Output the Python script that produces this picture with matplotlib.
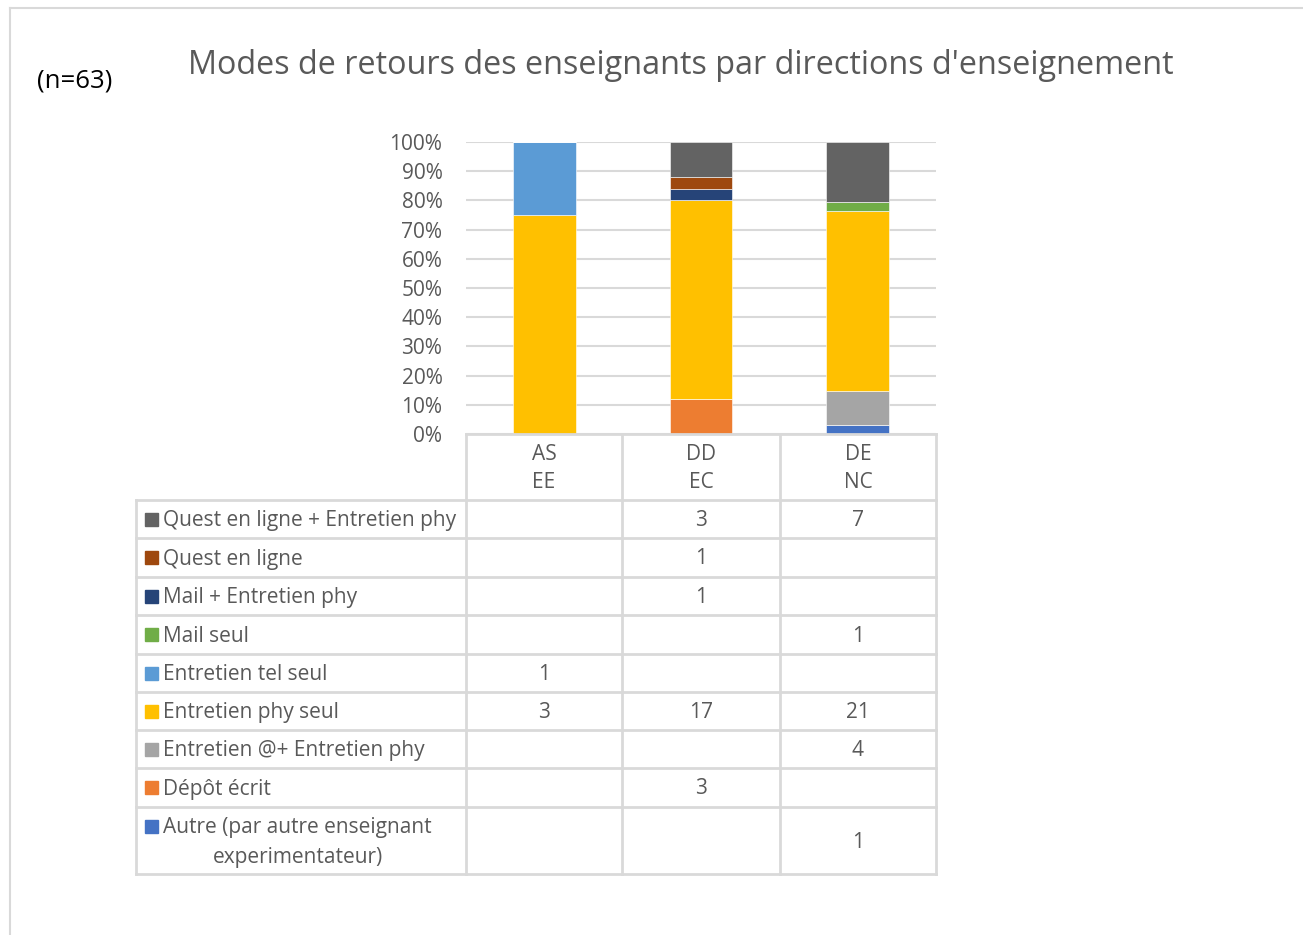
import numpy as np
import matplotlib
matplotlib.use("Agg")
import matplotlib.pyplot as plt
from matplotlib.patches import Rectangle

plt.rcParams['font.family'] = ['Open Sans', 'DejaVu Sans']

# directions d'enseignement (columns)
categories = ["AS\nEE", "DD\nEC", "DE\nNC"]

# series, listed bottom of the stack first
series = [
    "Autre (par autre enseignant\nexperimentateur)",
    "Dépôt écrit",
    "Entretien @+ Entretien phy",
    "Entretien phy seul",
    "Entretien tel seul",
    "Mail seul",
    "Mail + Entretien phy",
    "Quest en ligne",
    "Quest en ligne + Entretien phy",
]
colors = ["#4472C4", "#ED7D31", "#A5A5A5", "#FFC000", "#5B9BD5",
          "#70AD47", "#264478", "#9E480E", "#636363"]

# counts per series for AS EE, DD EC, DE NC (0 = empty cell)
autre = [0, 0, 1]
depot = [0, 3, 0]
entretien_at = [0, 0, 4]
entretien_phy = [3, 17, 21]
entretien_tel = [1, 0, 0]
mail_seul = [0, 0, 1]
mail_phy = [0, 1, 0]
quest = [0, 1, 0]
quest_phy = [0, 3, 7]

counts = np.array([autre, depot, entretien_at, entretien_phy, entretien_tel,
                   mail_seul, mail_phy, quest, quest_phy], dtype=float)
shares = counts / counts.sum(axis=0)

W, H = 1303, 935
fig = plt.figure(figsize=(W / 100, H / 100), dpi=100)

text_col = "#595959"
line_col = "#D9D9D9"
fs = 15

# pixel helpers
def fx(x):
    return x / W

def fy(y):
    return 1 - y / H

# bar area
px_l, px_r, px_t, px_b = 466, 936, 142, 434
ax = fig.add_axes([fx(px_l), fy(px_b), fx(px_r - px_l), (px_b - px_t) / H])
x = np.arange(len(categories))
bottom = np.zeros(len(categories))
for s, c, v in zip(series, colors, shares):
    ax.bar(x, v, 0.4, bottom=bottom, color=c, edgecolor="white", linewidth=0.4, zorder=3)
    bottom += v
ax.set_xlim(-0.5, len(categories) - 0.5)
ax.set_ylim(0, 1)
ticks = np.arange(0, 1.01, 0.1)
ax.set_yticks(ticks)
ax.set_yticklabels([f"{int(round(t * 100))}%" for t in ticks], color=text_col, fontsize=fs)
ax.yaxis.grid(True, color=line_col, linewidth=1.5, zorder=0)
ax.set_xticks([])
ax.tick_params(axis="y", length=0, pad=17)
for sp in ax.spines.values():
    sp.set_visible(False)

# overlay in pixel coordinates for the frame and the data table
ov = fig.add_axes([0, 0, 1, 1])
ov.set_xlim(0, W)
ov.set_ylim(H, 0)
ov.axis("off")
ov.patch.set_alpha(0)

# outer chart frame
ov.plot([10, W], [8, 8], color=line_col, lw=1.5)
ov.plot([10, 10], [8, H], color=line_col, lw=1.5)

ov.text(75, 81, "(n=63)", ha="center", va="center", fontsize=18.5, color="black")
ov.text(681, 65, "Modes de retours des enseignants par directions d'enseignement",
        ha="center", va="center", fontsize=23.3, color=text_col)

# table geometry
col_x = [136, 466, 622, 780, 936]
row_y = [434, 500, 538, 577, 615, 654, 692, 730, 768, 807, 874]
tlw = 2

ov.plot([466, 466], [434, 874], color=line_col, lw=tlw)
for cx in col_x[2:]:
    ov.plot([cx, cx], [434, 874], color=line_col, lw=tlw)
ov.plot([466, 936], [434, 434], color=line_col, lw=tlw)
ov.plot([136, 136], [500, 874], color=line_col, lw=tlw)
for ry in row_y[1:]:
    ov.plot([136, 936], [ry, ry], color=line_col, lw=tlw)

# header cells (category names)
centers = [(col_x[i + 1] + col_x[i + 2]) / 2 for i in range(len(categories))]
for cx, cat in zip(centers, categories):
    top, bot = cat.split("\n")
    ov.text(cx, 454, top, ha="center", va="center", fontsize=fs, color=text_col)
    ov.text(cx, 483, bot, ha="center", va="center", fontsize=fs, color=text_col)

# rows: top series first
for r, idx in enumerate(range(len(series) - 1, -1, -1)):
    y0, y1 = row_y[r + 1], row_y[r + 2]
    yc = (y0 + y1) / 2
    ty = yc + 1.5
    name = series[idx]
    if "\n" in name:
        l1, l2 = name.split("\n")
        ly = yc - 14
        ov.add_patch(Rectangle((145, ly - 6.5), 13, 13, color=colors[idx]))
        ov.text(163, ly + 1.5, l1, ha="left", va="center", fontsize=fs, color=text_col)
        ov.text(298, ly + 30.5, l2, ha="center", va="center", fontsize=fs, color=text_col)
    else:
        ov.add_patch(Rectangle((145, yc - 6.5), 13, 13, color=colors[idx]))
        ov.text(163, ty, name, ha="left", va="center", fontsize=fs, color=text_col)
    for cx, v in zip(centers, counts[idx]):
        if v > 0:
            ov.text(cx, ty, f"{int(v)}", ha="center", va="center", fontsize=fs, color=text_col)

fig.savefig("out.png", dpi=100)
